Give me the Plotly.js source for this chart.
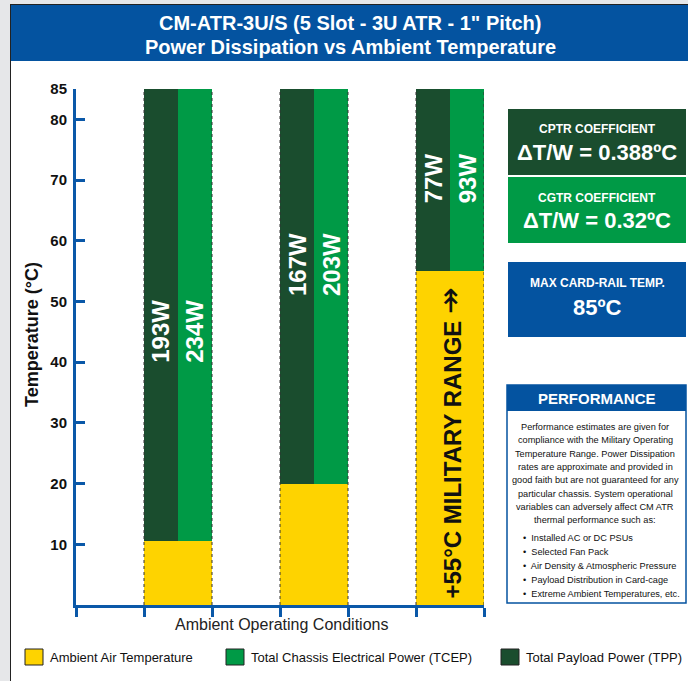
<!DOCTYPE html>
<html>
<head>
<meta charset="utf-8">
<script src="https://cdn.plot.ly/plotly-3.0.1.min.js"></script>
<style>html,body{margin:0;padding:0;background:#fff;}#chart{width:688px;height:681px;}</style>
</head>
<body>
<div id="chart"></div>
<script>
// ---------- data ----------
const categories = ['Ambient 10°C', 'Ambient 20°C', 'Military +55°C'];
const ambientTemp = [10.5, 20, 55];          // °C, yellow part
const maxCardRailTemp = 85;                  // °C, top of every bar
const tppWatts = [193, 167, 77];             // Total Payload Power
const tcepWatts = [234, 203, 93];            // Total Chassis Electrical Power
const yTickVals = [10, 20, 30, 40, 50, 60, 70, 80, 85];
const legendLabels = ['Ambient Air Temperature', 'Total Chassis Electrical Power (TCEP)', 'Total Payload Power (TPP)'];
const perfLines = [
  'Performance estimates are given for',
  'compliance with the Military Operating',
  'Temperature Range. Power Dissipation',
  'rates are approximate and provided in',
  'good faith but are not guaranteed for any',
  'particular chassis. System operational',
  'variables can adversely affect CM ATR',
  'thermal performance such as:'
];
const perfBullets = [
  'Installed AC or DC PSUs',
  'Selected Fan Pack',
  'Air Density & Atmospheric Pressure',
  'Payload Distribution in Card-cage',
  'Extreme Ambient Temperatures, etc.'
];

// ---------- style / layout ----------
const W = 688, H = 681;
const L = 76, R = 204, T = 89, B = 76;
const PW = W - L - R, PH = H - T - B;
const X = px => (px - L) / PW;
const Y = py => (H - B - py) / PH;

const C_YELLOW = '#fed300', C_GREEN = '#009a46', C_DARK = '#1a4d2e', C_BLUE = '#0453a0', C_AXIS = '#0a58a8';
const FONT = 'Liberation Sans, Arial, Helvetica, sans-serif';

const centers = categories.map((c, i) => 2 * i + 1.5);
const labelY = [45, 56, 70.3];

const traces = [
  { type: 'bar', x: centers, y: ambientTemp, base: 0, width: 1,
    marker: { color: C_YELLOW, line: { width: 0 } }, hoverinfo: 'skip', showlegend: false },
  { type: 'bar', x: centers.map(c => c - 0.25), base: ambientTemp,
    y: ambientTemp.map(a => maxCardRailTemp - a), width: 0.5,
    marker: { color: C_DARK, line: { width: 0 } }, hoverinfo: 'skip', showlegend: false },
  { type: 'bar', x: centers.map(c => c + 0.25), base: ambientTemp,
    y: ambientTemp.map(a => maxCardRailTemp - a), width: 0.5,
    marker: { color: C_GREEN, line: { width: 0 } }, hoverinfo: 'skip', showlegend: false }
];

const shapes = [];
const annotations = [];

// dotted bar outlines
centers.forEach(c => {
  [c - 0.5, c + 0.5].forEach(xx => shapes.push({ type: 'line', xref: 'x', yref: 'y',
    x0: xx, x1: xx, y0: 0, y1: maxCardRailTemp, line: { color: '#333', width: 1, dash: 'dot' }, layer: 'above' }));
});

// page frame
const rectPx = (x0, y0, x1, y1, fill, line) => shapes.push({ type: 'rect', xref: 'paper', yref: 'paper',
  x0: X(x0), x1: X(x1), y0: Y(y1), y1: Y(y0), fillcolor: fill, line: line || { width: 0 }, layer: 'above' });
rectPx(0, 0, 10, H, '#e6e7e9');
rectPx(0, 0, W, 4, '#e6e7e9');
rectPx(10, 4, 11, H, '#222');
rectPx(10, 4, W, 5, '#222');
rectPx(11, 5, W, 61, C_BLUE);

const ann = (text, px, py, opts) => annotations.push(Object.assign({
  text: text, xref: 'paper', yref: 'paper', x: X(px), y: Y(py), xanchor: 'center', yanchor: 'middle',
  showarrow: false, font: { family: FONT, size: 12, color: '#fff' }
}, opts || {}));

// header title
ann('<b>CM-ATR-3U/S (5 Slot - 3U ATR - 1" Pitch)</b>', 350, 23, { font: { family: FONT, size: 20, color: '#fff' } });
ann('<b>Power Dissipation vs Ambient Temperature</b>', 350, 47, { font: { family: FONT, size: 20, color: '#fff' } });

// axis titles
ann('<b>Temperature (°C)</b>', 32, 335, { textangle: -90, font: { family: FONT, size: 18, color: '#111' } });
ann('Ambient Operating Conditions', 281, 624, { font: { family: FONT, size: 16, color: '#222' } });

// bar labels
centers.forEach((c, i) => {
  annotations.push({ text: '<b>' + tppWatts[i] + 'W</b>', xref: 'x', yref: 'y', x: c - 0.25, y: labelY[i],
    textangle: -90, showarrow: false, xanchor: 'center', yanchor: 'middle', font: { family: FONT, size: 24, color: '#fff' } });
  annotations.push({ text: '<b>' + tcepWatts[i] + 'W</b>', xref: 'x', yref: 'y', x: c + 0.25, y: labelY[i],
    textangle: -90, showarrow: false, xanchor: 'center', yanchor: 'middle', font: { family: FONT, size: 24, color: '#fff' } });
});
annotations.push({ text: '<b>+55°C MILITARY RANGE </b><span style="font-family:DejaVu Sans;font-size:32px">↠</span>',
  xref: 'x', yref: 'y', x: centers[2], y: 26.6,
  textangle: -90, showarrow: false, xanchor: 'center', yanchor: 'middle', font: { family: FONT, size: 24, color: '#111' } });

// right info boxes
rectPx(508, 109, 686, 175, C_DARK);
ann('<b>CPTR COEFFICIENT</b>', 597, 129, { font: { family: FONT, size: 12, color: '#fff' } });
ann('<b>ΔT/W = 0.388ºC</b>', 597, 152, { font: { family: FONT, size: 22, color: '#fff' } });
rectPx(508, 177, 686, 243, C_GREEN);
ann('<b>CGTR COEFFICIENT</b>', 597, 198, { font: { family: FONT, size: 12, color: '#fff' } });
ann('<b>ΔT/W = 0.32ºC</b>', 597, 220, { font: { family: FONT, size: 22, color: '#fff' } });
rectPx(508, 262, 686, 337, C_BLUE);
ann('<b>MAX CARD-RAIL TEMP.</b>', 597, 283, { font: { family: FONT, size: 12, color: '#fff' } });
ann('<b>' + maxCardRailTemp + 'ºC</b>', 597, 307, { font: { family: FONT, size: 22, color: '#fff' } });

// performance box
rectPx(507, 385, 686, 603, '#fff', { color: C_BLUE, width: 1.5 });
rectPx(507, 385, 686, 411, C_BLUE);
ann('<b>PERFORMANCE</b>', 597, 398, { font: { family: FONT, size: 15, color: '#fff' } });
perfLines.forEach((t, i) => ann(t, 595, 427 + i * 13.3, { font: { family: FONT, size: 9.2, color: '#111' } }));
perfBullets.forEach((t, i) => ann('•  ' + t, 521, 538 + i * 14, { xanchor: 'left', font: { family: FONT, size: 9.2, color: '#111' } }));

// legend
const legendColors = [C_YELLOW, C_GREEN, C_DARK];
const legendX = [25, 226, 501];
legendLabels.forEach((t, i) => {
  rectPx(legendX[i], 649, legendX[i] + 18, 665, legendColors[i], { color: '#222', width: 1 });
  ann(t, legendX[i] + 23, 657, { xanchor: 'left', font: { family: FONT, size: 13, color: '#111' } });
});

const layout = {
  width: W, height: H,
  margin: { l: L, r: R, t: T, b: B, pad: 0 },
  paper_bgcolor: '#fff', plot_bgcolor: '#fff',
  barmode: 'overlay', bargap: 0,
  showlegend: false,
  xaxis: { range: [0, 6], tickvals: [0, 1, 2, 3, 4, 5, 6], showticklabels: false,
    ticks: 'outside', ticklen: 9, tickwidth: 3, tickcolor: C_AXIS,
    showline: true, linecolor: C_AXIS, linewidth: 3, showgrid: false, zeroline: false, fixedrange: true },
  yaxis: { range: [0, maxCardRailTemp], tickvals: yTickVals, ticktext: yTickVals.map(v => '<b>' + v + '</b>'),
    ticks: 'inside', ticklen: 9, tickwidth: 3, tickcolor: C_AXIS, ticklabelstandoff: 3,
    tickfont: { family: FONT, size: 15, color: '#111' },
    showline: true, linecolor: C_AXIS, linewidth: 3, showgrid: false, zeroline: false, fixedrange: true },
  shapes: shapes,
  annotations: annotations
};

Plotly.newPlot('chart', traces, layout, { displayModeBar: false, staticPlot: true });
</script>
</body>
</html>
